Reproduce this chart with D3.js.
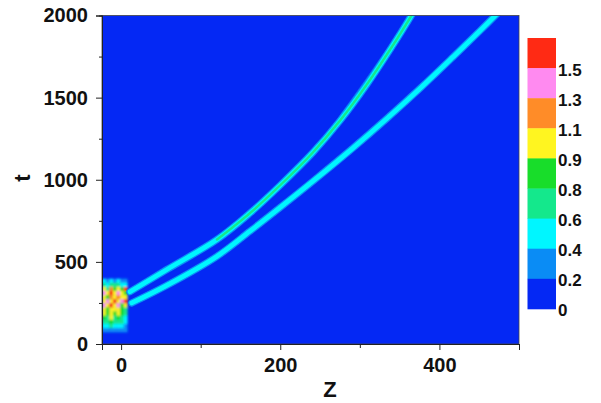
<!DOCTYPE html>
<html>
<head>
<meta charset="utf-8">
<script src="https://cdn.jsdelivr.net/npm/d3@7"></script>
<style>
  html, body { margin: 0; padding: 0; background: #fff; }
  svg text { font-family: "Liberation Sans", Arial, Helvetica, sans-serif; font-weight: bold; fill: #111; }
</style>
</head>
<body>
<svg id="chart" width="601" height="403"></svg>
<script>
// Colour levels of the intensity map
const levelBreaks = [0.2, 0.4, 0.6, 0.8, 0.9, 1.1, 1.3, 1.5];
const levelColors = ["#0428f4", "#0a8cf5", "#00f6ff", "#14e88c", "#18dd2a", "#fff520", "#ff8c28", "#ff8af0", "#ff2a14"];
const colorbarLabels = ["0", "0.2", "0.4", "0.6", "0.8", "0.9", "1.1", "1.3", "1.5"];

// Axis ticks
const zTicks = [0, 200, 400];
const zMinorTicks = [100, 300, 500];
const tTicks = [0, 500, 1000, 1500, 2000];
const tMinorTicks = [250, 750, 1250, 1750];

// Trajectory of the faster (upper) pulse: position z, time t, peak intensity
const upperZ = [11.2, 57.7, 120.5, 162, 199.6, 241, 275.2, 309.1, 338, 365.6];
const upperT = [318, 454, 636, 797, 965, 1166, 1360, 1582, 1792, 2006];
const upperPeak = [0.55, 0.55, 0.62, 0.66, 0.68, 0.7, 0.72, 0.72, 0.72, 0.72];

// Trajectory of the lower pulse
const lowerZ = [13.4, 57.4, 120.2, 162, 199.6, 241, 291.3, 334, 375.6, 417, 451, 473.6];
const lowerT = [250, 357, 533, 687, 830, 991, 1193, 1373, 1556, 1747, 1907, 2016];
const lowerPeak = [0.55, 0.55, 0.55, 0.55, 0.55, 0.55, 0.55, 0.55, 0.55, 0.55, 0.55, 0.55];

// Weak radiation branch beside the upper pulse
const tailZ = [250, 300, 350.5];
const tailT = [1223, 1560, 1911];

// Interaction region at the input: cell centres and intensities (rows from high t to low t)
const cellZ = [-21.5, -17, -12.5, -8, -3.5, 1, 5.5];
const cellT = [385, 360, 335, 310, 285, 260, 235, 210, 185, 160, 135, 110, 85];
const cellValues = [
  [0.45, 0.35, 0.50, 0.35, 0.45, 0.35, 0.30],
  [0.65, 0.55, 0.75, 0.60, 0.70, 0.55, 0.45],
  [0.95, 0.75, 1.20, 0.80, 1.00, 0.85, 1.60],
  [1.35, 0.90, 1.50, 0.95, 1.40, 0.90, 0.85],
  [1.00, 0.85, 1.10, 0.90, 1.20, 1.00, 0.95],
  [0.90, 1.40, 0.95, 1.50, 0.90, 1.30, 1.60],
  [1.30, 0.90, 1.55, 0.95, 1.35, 0.85, 0.90],
  [1.00, 0.85, 1.05, 0.90, 1.00, 0.80, 0.70],
  [0.95, 0.80, 1.00, 0.85, 0.95, 0.85, 0.60],
  [0.85, 0.70, 0.95, 0.75, 0.85, 0.70, 0.55],
  [0.75, 0.60, 0.80, 0.65, 0.70, 0.60, 0.45],
  [0.55, 0.45, 0.60, 0.45, 0.55, 0.45, 0.35],
  [0.35, 0.25, 0.35, 0.25, 0.35, 0.25, 0.22]
];
const cellDZ = 4.5, cellDT = 25;

const svg = d3.select("#chart");
const plot = { left: 102, right: 519, top: 15.5, bottom: 344 };

const x = d3.scaleLinear().domain([-24, 500]).range([plot.left, plot.right]);
const y = d3.scaleLinear().domain([0, 2000]).range([plot.bottom, plot.top]);
const color = d3.scaleThreshold().domain(levelBreaks).range(levelColors);

const defs = svg.append("defs");
defs.append("clipPath").attr("id", "plotClip")
  .append("rect")
  .attr("x", plot.left).attr("y", plot.top)
  .attr("width", plot.right - plot.left).attr("height", plot.bottom - plot.top);
defs.append("filter").attr("id", "soft")
  .attr("x", "-20%").attr("y", "-20%").attr("width", "140%").attr("height", "140%")
  .append("feGaussianBlur").attr("stdDeviation", 0.8);
defs.append("filter").attr("id", "softLine")
  .attr("x", "-5%").attr("y", "-5%").attr("width", "110%").attr("height", "110%")
  .append("feGaussianBlur").attr("stdDeviation", 0.45);

// Background level
svg.append("rect")
  .attr("x", plot.left).attr("y", plot.top)
  .attr("width", plot.right - plot.left).attr("height", plot.bottom - plot.top)
  .attr("fill", color(0));

const field = svg.append("g").attr("clip-path", "url(#plotClip)");

// Interaction region cells
const cells = [];
cellT.forEach((t, i) => cellZ.forEach((z, j) => cells.push({ z, t, v: cellValues[i][j] })));
field.append("g").attr("filter", "url(#soft)")
  .selectAll("rect").data(cells).join("rect")
  .attr("x", d => x(d.z - cellDZ / 2))
  .attr("y", d => y(d.t + cellDT / 2))
  .attr("width", d => x(d.z + cellDZ / 2) - x(d.z - cellDZ / 2) + 0.3)
  .attr("height", d => y(d.t - cellDT / 2) - y(d.t + cellDT / 2) + 0.3)
  .attr("fill", d => color(d.v));

const line = d3.line().x(d => x(d.z)).y(d => y(d.t)).curve(d3.curveCatmullRom);

// Weak branch
field.append("path")
  .attr("d", line(tailZ.map((z, i) => ({ z, t: tailT[i] }))))
  .attr("fill", "none").attr("stroke", color(0.3)).attr("stroke-width", 1)
  .attr("opacity", 0.55);

function drawTrack(zs, ts, peaks) {
  const pts = zs.map((z, i) => ({ z, t: ts[i], v: peaks[i] }));
  const g = field.append("g").attr("filter", "url(#softLine)");
  // outer levels of the pulse profile
  g.append("path").attr("d", line(pts)).attr("fill", "none")
    .attr("stroke", color(0.3)).attr("stroke-width", 7.2).attr("stroke-linecap", "round");
  g.append("path").attr("d", line(pts)).attr("fill", "none")
    .attr("stroke", color(0.5)).attr("stroke-width", 4.8).attr("stroke-linecap", "round");
  // core, split into runs of equal colour level
  let run = [pts[0]];
  const runs = [];
  for (let i = 1; i < pts.length; i++) {
    run.push(pts[i]);
    if (color(pts[i].v) !== color(run[0].v) || i === pts.length - 1) {
      runs.push({ pts: run.slice(), c: color(run[0].v) });
      run = [pts[i]];
    }
  }
  runs.forEach(r => {
    g.append("path").attr("d", line(r.pts)).attr("fill", "none")
      .attr("stroke", r.c).attr("stroke-width", 2.4).attr("stroke-linecap", "round");
  });
}
drawTrack(upperZ, upperT, upperPeak);
drawTrack(lowerZ, lowerT, lowerPeak);

// Frame
svg.append("rect")
  .attr("x", plot.left).attr("y", plot.top)
  .attr("width", plot.right - plot.left).attr("height", plot.bottom - plot.top)
  .attr("fill", "none").attr("stroke", "#444").attr("stroke-width", 0.8);

// Axes
const xAxis = svg.append("g").attr("transform", `translate(0,${plot.bottom})`)
  .call(d3.axisBottom(x).tickValues(zTicks).tickSize(6).tickPadding(8).tickFormat(d3.format("d")));
svg.append("g").attr("transform", `translate(0,${plot.bottom})`)
  .call(d3.axisBottom(x).tickValues(zMinorTicks).tickSize(4).tickFormat(""));
const yAxis = svg.append("g").attr("transform", `translate(${plot.left},0)`)
  .call(d3.axisLeft(y).tickValues(tTicks).tickSize(6).tickPadding(8).tickFormat(d3.format("d")));
svg.append("g").attr("transform", `translate(${plot.left},0)`)
  .call(d3.axisLeft(y).tickValues(tMinorTicks).tickSize(3).tickFormat(""));
svg.selectAll(".domain").attr("stroke", "#222").attr("stroke-width", 1);
svg.selectAll(".tick line").attr("stroke", "#222");
xAxis.selectAll("text").attr("font-size", 20).attr("fill", "#111");
yAxis.selectAll("text").attr("font-size", 20).attr("fill", "#111");

// Axis titles
svg.append("text").attr("x", 330).attr("y", 397).attr("text-anchor", "middle")
  .attr("font-size", 22).text("Z");
svg.append("text").attr("transform", "translate(30,178) rotate(-90)")
  .attr("text-anchor", "middle").attr("font-size", 22).text("t");

// Colour bar
const bar = { left: 527.5, width: 28.5, top: 38, segment: 30.1 };
const barLevels = levelColors.slice().reverse();
svg.append("g").selectAll("rect").data(barLevels).join("rect")
  .attr("x", bar.left).attr("y", (d, i) => bar.top + i * bar.segment)
  .attr("width", bar.width).attr("height", bar.segment + 0.4)
  .attr("fill", d => d);
const barLabelsTop = colorbarLabels.slice().reverse();
svg.append("g").selectAll("text").data(barLabelsTop).join("text")
  .attr("x", bar.left + bar.width + 2)
  .attr("y", (d, i) => bar.top + (i + 1) * bar.segment + 3)
  .attr("dominant-baseline", "middle")
  .attr("font-size", 17)
  .text(d => d);
</script>
</body>
</html>
